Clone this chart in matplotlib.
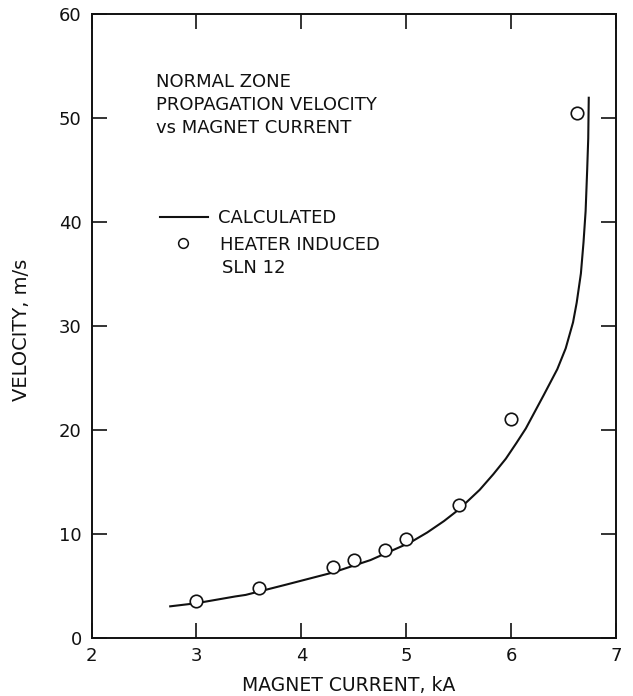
import matplotlib

matplotlib.use("Agg")
import matplotlib.pyplot as plt
from matplotlib.lines import Line2D

# calculated curve
calc_current = [2.75, 3.0, 3.37, 3.47, 3.86, 4.30, 4.66, 5.04, 5.20, 5.36, 5.50,
                5.70, 5.83, 5.95, 6.05, 6.14, 6.31, 6.44, 6.52, 6.59, 6.625,
                6.665, 6.69, 6.71, 6.725, 6.735, 6.74]
calc_velocity = [3.0, 3.3, 3.95, 4.1, 5.1, 6.25, 7.45, 9.15, 10.1, 11.2, 12.3,
                 14.2, 15.7, 17.2, 18.7, 20.1, 23.3, 25.8, 27.8, 30.3, 32.2,
                 35.0, 38.0, 41.0, 45.0, 48.0, 51.9]

# heater induced quenches, SLN 12
meas_current = [3.0, 3.6, 4.3, 4.5, 4.8, 5.0, 5.5, 6.0, 6.63]
meas_velocity = [3.5, 4.75, 6.8, 7.5, 8.4, 9.5, 12.7, 21.0, 50.4]

x_ticks = [2, 3, 4, 5, 6, 7]
y_ticks = [0, 10, 20, 30, 40, 50, 60]

INK = "#111111"

plt.rcParams["font.family"] = ["DejaVu Sans"]

fig = plt.figure(figsize=(6.33, 6.96), dpi=100)
ax = fig.add_axes([0.1446, 0.084, 0.8286, 0.8966])

ax.plot(calc_current, calc_velocity, color=INK, linewidth=1.5, zorder=2)
ax.plot(meas_current, meas_velocity, linestyle="none", marker="o", markersize=9,
        markerfacecolor="white", markeredgecolor=INK, markeredgewidth=1.2, zorder=3)

ax.set_xlim(2, 7)
ax.set_ylim(0, 60)
ax.set_xticks(x_ticks)
ax.set_yticks(y_ticks)
ax.tick_params(direction="in", length=11, width=1.2, top=True, right=True,
               labelsize=13, pad=7, colors=INK)
for side in ax.spines.values():
    side.set_linewidth(1.4)
    side.set_color(INK)

ax.set_xlabel("MAGNET CURRENT, kA", fontsize=13.5, color=INK)
ax.xaxis.set_label_coords(0.491, -0.062)
ax.set_ylabel("VELOCITY, m/s", fontsize=14, color=INK, va="center", ha="center")
ax.yaxis.set_label_coords(-0.1335, 0.493)

title_lines = ["NORMAL ZONE", "PROPAGATION VELOCITY", "vs MAGNET CURRENT"]
for i, line in enumerate(title_lines):
    ax.text(0.123, 0.882 - i * 0.0368, line, transform=ax.transAxes,
            fontsize=13, va="baseline", ha="left", color=INK)

# hand drawn key
ax.add_line(Line2D([0.1306, 0.222], [0.674, 0.674], transform=ax.transAxes,
                   color=INK, linewidth=1.5))
ax.text(0.241, 0.6643, "CALCULATED", transform=ax.transAxes, fontsize=13,
        va="baseline", ha="left", color=INK)
ax.add_line(Line2D([0.1745], [0.632], transform=ax.transAxes, marker="o",
                   markersize=7, markerfacecolor="white", markeredgecolor=INK,
                   markeredgewidth=1.1, linestyle="none"))
ax.text(0.245, 0.621, "HEATER INDUCED", transform=ax.transAxes, fontsize=13,
        va="baseline", ha="left", color=INK)
ax.text(0.249, 0.584, "SLN 12", transform=ax.transAxes, fontsize=13,
        va="baseline", ha="left", color=INK)

fig.savefig("out.png", dpi=100)
